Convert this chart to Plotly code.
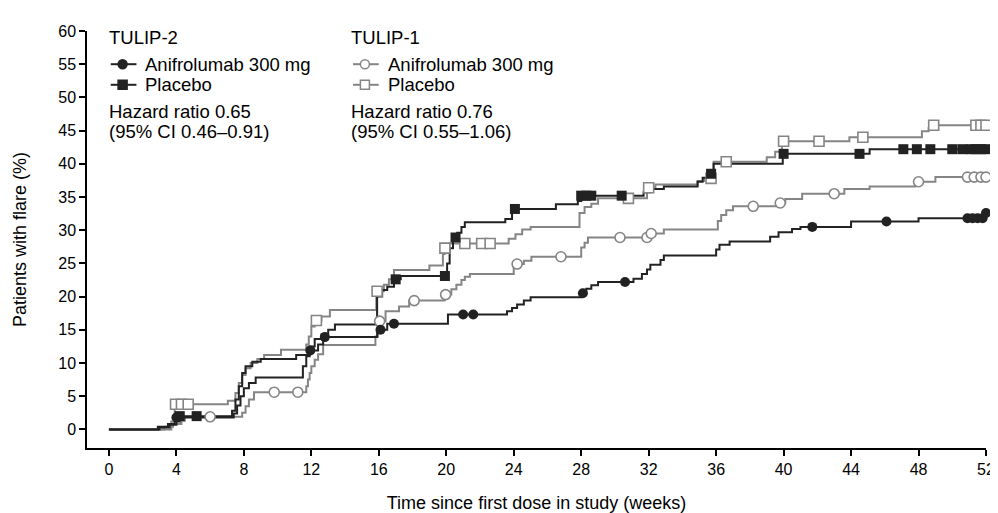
import numpy as np
import plotly.graph_objects as go

# ---------------- data (weeks, % patients with flare) ----------------
# TULIP-2 anifrolumab 300 mg: step times / cumulative % after step
t2_ani_t = [0, 2.9, 3.5, 3.9, 7.4, 7.6, 7.8, 8.0, 8.3, 8.7, 11.5, 11.7, 11.9, 12.4, 12.7,
            15.9, 16.05, 16.5, 20.1, 23.6, 23.9, 24.2, 24.6, 25.0, 28.0, 28.3, 28.6, 29.0,
            31.1, 31.6, 31.9, 32.1, 32.7, 32.9, 36.0, 36.2, 36.8, 39.2, 39.7, 40.5, 41.0,
            44.0, 48.0, 51.85]
t2_ani_v = [0, 0.4, 0.8, 1.8, 2.4, 3.6, 5.0, 6.2, 7.0, 7.8, 9.5, 11.0, 11.9, 12.8, 13.9,
            14.6, 15.0, 15.9, 17.3, 17.8, 18.3, 18.8, 19.4, 19.9, 20.5, 21.2, 21.7, 22.2,
            22.7, 23.4, 24.1, 24.8, 25.5, 26.2, 27.1, 27.8, 28.3, 29.0, 29.7, 30.2, 30.5,
            31.3, 31.8, 32.6]
t2_ani_cens = [4.0, 11.94, 12.8, 16.1, 16.9, 21.0, 21.6, 28.1, 30.6, 41.7, 46.1,
               50.9, 51.2, 51.5, 51.8, 52.0]

# TULIP-2 placebo
t2_pbo_t = [0, 3.0, 3.6, 4.0, 4.2, 7.3, 7.5, 7.7, 7.9, 8.1, 8.5, 9.0, 11.1, 11.9, 12.2,
            12.6, 13.0, 13.4, 15.9, 16.2, 16.5, 16.9, 17.3, 20.05, 20.2, 20.4, 20.65,
            20.9, 21.1, 23.5, 23.9, 26.5, 27.8, 28.0, 31.7, 32.1, 32.9, 34.9, 35.2, 35.6,
            35.85, 39.95, 45.1]
t2_pbo_v = [0, 0.3, 0.7, 1.2, 2.0, 2.8, 4.5, 6.5, 8.5, 9.5, 10.2, 10.6, 11.2, 12.5, 13.6,
            14.3, 15.0, 15.8, 20.0, 21.0, 21.5, 22.6, 23.1, 25.0, 27.3, 28.9, 29.6,
            30.5, 31.2, 31.7, 33.2, 33.9, 34.4, 35.2, 35.7, 36.2, 36.6, 37.3, 37.9, 38.5,
            40.0, 41.5, 42.2]
t2_pbo_cens = [4.2, 5.2, 17.0, 19.92, 20.55, 24.07, 28.0, 28.3, 28.6, 30.4, 35.7, 40.0,
               44.5, 47.1, 47.9, 48.7, 50.0, 50.6, 51.1, 51.4, 51.7, 52.0]

# TULIP-1 anifrolumab 300 mg
t1_ani_t = [0, 3.3, 3.8, 4.3, 4.5, 7.9, 8.1, 8.3, 8.6, 11.7, 11.8, 11.9, 12.0, 12.2, 12.4,
            12.7, 15.8, 15.95, 16.4, 17.2, 17.8, 19.9, 20.3, 20.6, 20.9, 21.1, 21.4, 24.0,
            24.6, 25.05, 28.0, 28.2, 28.4, 32.1, 32.9, 36.1, 36.3, 36.6, 37.0, 39.7, 40.1,
            41.1, 43.6, 45.1, 47.8, 49.0]
t1_ani_v = [0, 0.4, 0.8, 1.3, 1.9, 2.5, 3.5, 4.5, 5.6, 6.5, 7.5, 8.5, 9.5, 10.5, 11.3,
            12.7, 14.0, 16.3, 17.8, 18.5, 19.4, 20.3, 21.1, 21.8, 22.5, 23.0, 23.4, 24.9,
            25.4, 26.0, 27.4, 28.1, 28.9, 29.5, 30.1, 31.4, 32.3, 33.0, 33.6, 34.1, 34.7,
            35.5, 36.2, 36.6, 37.3, 38.0]
t1_ani_cens = [6.0, 9.8, 11.2, 16.05, 18.1, 19.96, 24.2, 26.8, 30.3, 31.9, 32.15, 38.2,
               39.8, 43.0, 48.0, 50.9, 51.3, 51.7, 52.0]

# TULIP-1 placebo
t1_pbo_t = [0, 3.7, 3.9, 7.05, 7.5, 7.7, 7.9, 8.1, 8.4, 8.8, 9.2, 10.2, 11.7, 11.85, 12.0,
            12.2, 12.6, 13.1, 15.85, 16.3, 16.6, 16.9, 19.0, 19.8, 19.9, 20.15, 23.7, 24.1,
            24.5, 25.0, 27.9, 28.2, 28.6, 29.0, 31.9, 32.4, 34.9, 35.3, 35.85, 39.0, 39.5,
            39.9, 43.9, 48.2, 48.6, 48.8]
t1_pbo_v = [0, 1.2, 3.8, 4.3, 5.5, 7.0, 8.2, 9.2, 10.0, 10.6, 11.2, 12.0, 12.8, 14.0, 15.5,
            16.4, 17.0, 18.0, 20.8, 21.8, 22.6, 24.0, 24.7, 26.4, 27.3, 28.0, 28.7, 29.4,
            30.1, 30.5, 32.6, 33.5, 34.0, 34.8, 36.4, 36.9, 37.4, 37.8, 40.3, 41.0, 41.8,
            43.4, 44.0, 44.9, 45.4, 45.8]
t1_pbo_cens = [3.95, 4.3, 4.7, 12.3, 15.9, 19.92, 21.1, 22.1, 22.6, 30.8, 32.0, 35.7, 36.6,
               40.0, 42.1, 44.7, 48.9, 51.4, 51.7, 52.0]

x_ticks = list(range(0, 53, 4))
y_ticks = list(range(0, 61, 5))
end_week = 52

legend_groups = ["TULIP-2", "TULIP-1"]
legend_labels = ["Anifrolumab 300 mg", "Placebo"]
hr_text = {"TULIP-2": ["Hazard ratio 0.65", "(95% CI 0.46\u20130.91)"],
           "TULIP-1": ["Hazard ratio 0.76", "(95% CI 0.55\u20131.06)"]}

DARK = "#222222"
GRAY = "#858585"
FONT = "Arial, 'Liberation Sans', Helvetica, sans-serif"
TXT = 18.5

# plot-area geometry (pixels)
ML, MR, MT, MB = 78, 11, 23, 63
W, H = 998, 513
PW = W - ML - MR


def step_value(times, vals, t):
    i = np.searchsorted(np.asarray(times), t, side="right") - 1
    return vals[max(i, 0)]


def paper_x(px):
    return (px - ML) / PW


fig = go.Figure()

curves = [
    (t1_pbo_t, t1_pbo_v, t1_pbo_cens, GRAY, "square", True),
    (t1_ani_t, t1_ani_v, t1_ani_cens, GRAY, "circle", True),
    (t2_pbo_t, t2_pbo_v, t2_pbo_cens, DARK, "square", False),
    (t2_ani_t, t2_ani_v, t2_ani_cens, DARK, "circle", False),
]

for tt, vv, cc, col, sym, opened in curves:
    fig.add_trace(go.Scatter(x=list(tt) + [end_week], y=list(vv) + [vv[-1]],
                             mode="lines", line=dict(color=col, width=2, shape="hv"),
                             showlegend=False, hoverinfo="skip", cliponaxis=False))

for tt, vv, cc, col, sym, opened in curves:
    cy = [step_value(tt, vv, c) for c in cc]
    if opened:
        mk = dict(symbol=sym, size=10, color="white", line=dict(color=col, width=1.6))
    else:
        mk = dict(symbol=sym, size=10, color=col, line=dict(color=col, width=0))
    fig.add_trace(go.Scatter(x=cc, y=cy, mode="markers", marker=mk,
                             showlegend=False, cliponaxis=False))

# ---------------- hand-built legend blocks ----------------
annotations = []
shapes = []
block_left = {"TULIP-2": 100, "TULIP-1": 345}
block_col = {"TULIP-2": DARK, "TULIP-1": GRAY}
head_y, row_y, hr_y = 59.0, [55.0, 51.9], [47.9, 44.8]

for g in legend_groups:
    x0 = block_left[g]
    col = block_col[g]
    opened = g == "TULIP-1"
    annotations.append(dict(text=g, xref="paper", yref="y", x=paper_x(x0 - 2), y=head_y,
                            xanchor="left", yanchor="middle", showarrow=False,
                            font=dict(size=TXT)))
    for k, lab in enumerate(legend_labels):
        y = row_y[k]
        shapes.append(dict(type="line", xref="paper", yref="y", x0=paper_x(x0 + 2),
                           x1=paper_x(x0 + 28), y0=y, y1=y,
                           line=dict(color=col, width=2)))
        shp = "circle" if k == 0 else "rect"
        shapes.append(dict(type=shp, xref="paper", yref="y", xsizemode="pixel",
                           ysizemode="pixel", xanchor=paper_x(x0 + 14), yanchor=y,
                           x0=-4.5, x1=4.5, y0=-4.5, y1=4.5,
                           fillcolor="white" if opened else col,
                           line=dict(color=col, width=1.5)))
        annotations.append(dict(text=lab, xref="paper", yref="y", x=paper_x(x0 + 35),
                                y=y, xanchor="left", yanchor="middle", showarrow=False,
                                font=dict(size=TXT)))
    for k, txt in enumerate(hr_text[g]):
        annotations.append(dict(text=txt, xref="paper", yref="y", x=paper_x(x0 - 2),
                                y=hr_y[k], xanchor="left", yanchor="middle",
                                showarrow=False, font=dict(size=TXT)))

axis_common = dict(showline=True, linecolor="black", linewidth=1.5, ticks="outside",
                   ticklen=6, tickwidth=1.5, tickcolor="black", showgrid=False,
                   zeroline=False, tickfont=dict(size=16, color="black", family=FONT),
                   mirror=False)

fig.update_layout(
    width=W, height=H,
    margin=dict(l=ML, r=MR, t=MT, b=MB),
    paper_bgcolor="white", plot_bgcolor="white",
    font=dict(family=FONT, size=16, color="black"),
    showlegend=False,
    xaxis=dict(range=[-1.3, 52], tickvals=x_ticks,
               title=dict(text="Time since first dose in study (weeks)", standoff=19,
                          font=dict(size=18)),
               **axis_common),
    yaxis=dict(range=[-2.8, 60], tickvals=y_ticks,
               title=dict(text="Patients with flare (%)", standoff=27, font=dict(size=18)),
               **axis_common),
    annotations=annotations,
    shapes=shapes,
)

fig.write_html("out.html")
